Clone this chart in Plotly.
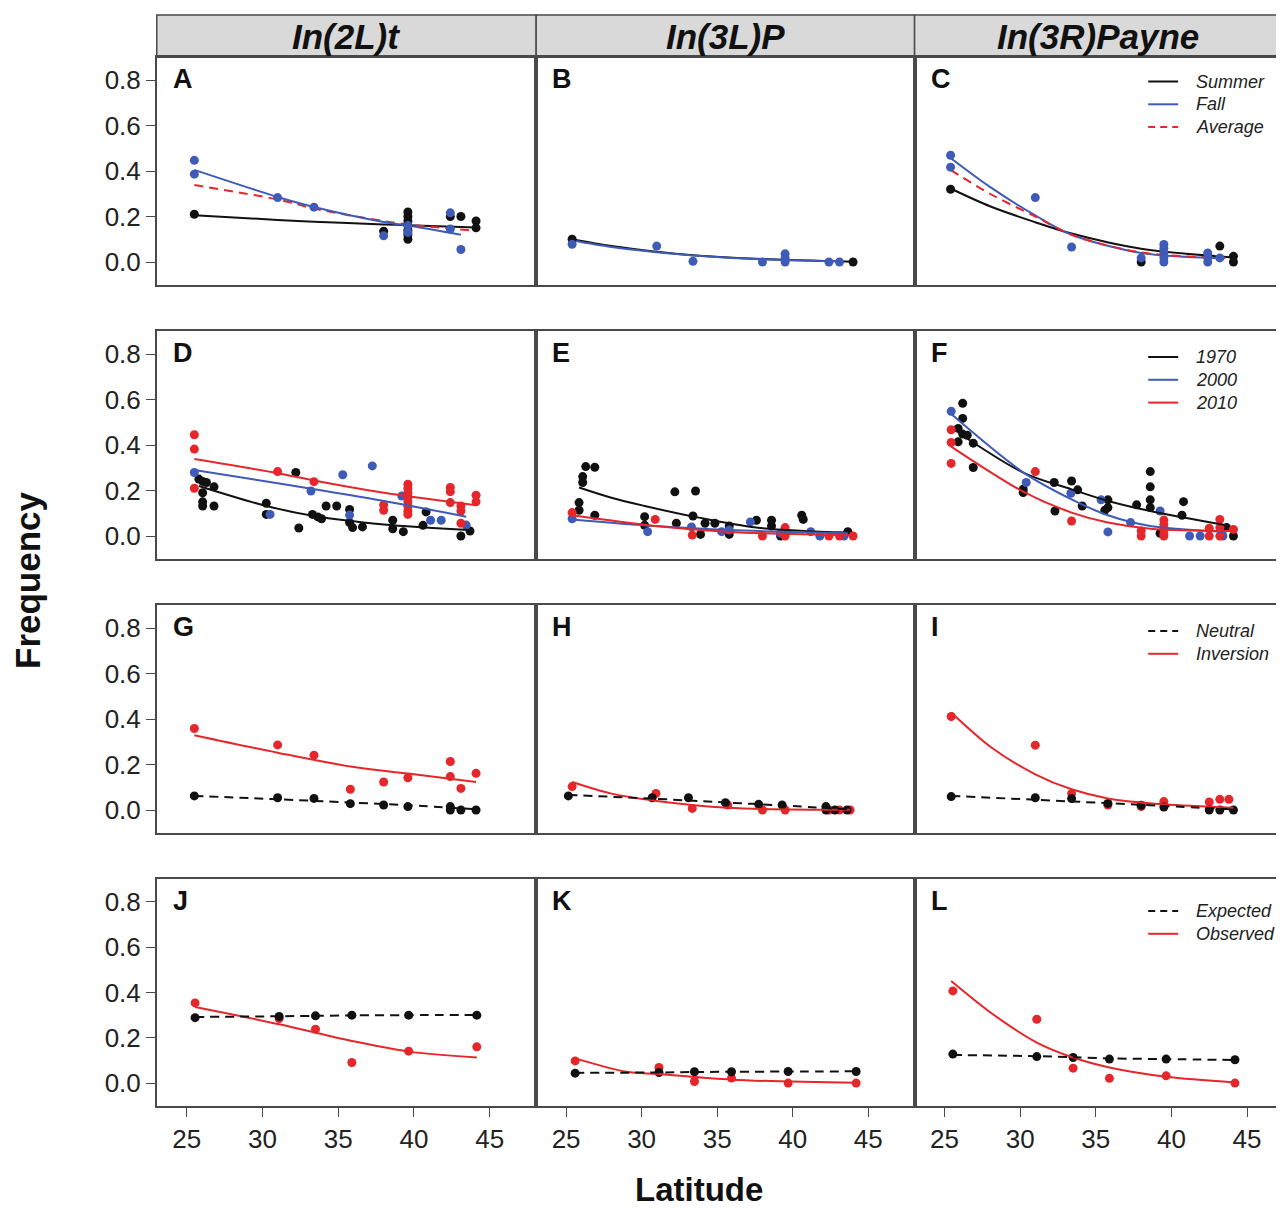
import plotly.graph_objects as go

# page body has an 8px margin: the figure is drawn 8px smaller and shifted
OFF = 8
W, H = 1284 - OFF, 1209 - OFF
BLACK = '#111111'
BLUE = '#3F5BB8'
RED = '#E5262A'
FRAME = '#4a4a4a'
FONT = 'Liberation Sans, Arial, Helvetica, sans-serif'

col_titles = ['In(2L)t', 'In(3L)P', 'In(3R)Payne']
panel_letters = list('ABCDEFGHIJKL')
y_ticks = [0.0, 0.2, 0.4, 0.6, 0.8]
x_ticks = [25, 30, 35, 40, 45]
legend_labels = [['Summer', 'Fall', 'Average'], ['1970', '2000', '2010'],
                 ['Neutral', 'Inversion'], ['Expected', 'Observed']]

# ---------------- Row 1: Summer / Fall ----------------
A_sum_lat = [25.5, 38.0, 39.6, 39.6, 39.6, 39.6, 39.6, 39.6, 39.6, 42.4, 43.1, 44.1, 44.1]
A_sum_val = [0.21, 0.135, 0.22, 0.20, 0.18, 0.16, 0.14, 0.12, 0.10, 0.20, 0.20, 0.18, 0.15]
A_fall_lat = [25.5, 25.5, 31.0, 33.4, 38.0, 39.6, 39.6, 42.4, 42.4, 43.1]
A_fall_val = [0.447, 0.386, 0.283, 0.241, 0.115, 0.16, 0.13, 0.216, 0.145, 0.055]
A_sum_fit_lat = [25.5, 31.0, 33.4, 38.0, 39.6, 44.1]
A_sum_fit = [0.206, 0.185, 0.177, 0.165, 0.162, 0.152]
A_fall_fit_lat = [25.5, 31.0, 33.4, 38.0, 39.6, 43.1]
A_fall_fit = [0.405, 0.286, 0.242, 0.176, 0.160, 0.120]
A_avg_fit_lat = [25.5, 31.0, 33.4, 38.0, 39.6, 44.1]
A_avg_fit = [0.338, 0.275, 0.235, 0.180, 0.165, 0.137]

B_sum_lat = [25.4, 44.0]
B_sum_val = [0.10, 0.0]
B_fall_lat = [25.4, 31.0, 33.4, 38.0, 39.5, 39.5, 39.5, 42.4, 43.1]
B_fall_val = [0.078, 0.07, 0.003, 0.0, 0.036, 0.018, 0.0, 0.0, 0.0]
B_sum_fit_lat = [25.4, 28.0, 31.0, 33.4, 38.0, 44.0]
B_sum_fit = [0.100, 0.070, 0.045, 0.030, 0.013, 0.001]
B_fall_fit_lat = [25.4, 28.0, 31.0, 33.4, 38.0, 43.1]
B_fall_fit = [0.094, 0.066, 0.043, 0.029, 0.012, 0.003]

C_sum_lat = [25.4, 38.0, 43.2, 44.1, 44.1]
C_sum_val = [0.32, 0.0, 0.07, 0.025, 0.0]
C_fall_lat = [25.4, 25.4, 31.0, 33.4, 38.0, 39.5, 39.5, 39.5, 39.5, 39.5, 42.4, 42.4, 42.4, 43.2]
C_fall_val = [0.469, 0.417, 0.283, 0.066, 0.018, 0.077, 0.06, 0.04, 0.02, 0.0, 0.04, 0.02, 0.0, 0.018]
C_sum_fit_lat = [25.4, 28.0, 31.0, 33.4, 38.0, 44.1]
C_sum_fit = [0.323, 0.245, 0.175, 0.125, 0.058, 0.020]
C_fall_fit_lat = [25.4, 28.0, 31.0, 33.4, 38.0, 43.2]
C_fall_fit = [0.457, 0.330, 0.205, 0.120, 0.040, 0.017]
C_avg_fit_lat = [25.4, 28.0, 31.0, 33.4, 38.0, 44.1]
C_avg_fit = [0.405, 0.300, 0.200, 0.120, 0.042, 0.017]

# ---------------- Row 2: 1970 / 2000 / 2010 ----------------
D_70_lat = [25.8, 26.05, 26.3, 26.05, 26.05, 26.05, 26.8, 26.8, 30.25, 30.25, 32.2, 32.4, 33.3, 33.65,
            33.9, 34.2, 34.9, 35.75, 35.75, 35.95, 36.6, 38.6, 38.6, 39.3, 40.8, 40.6, 43.1, 43.7]
D_70_val = [0.25, 0.24, 0.235, 0.19, 0.15, 0.132, 0.216, 0.132, 0.144, 0.095, 0.279, 0.035, 0.095, 0.084,
            0.076, 0.132, 0.132, 0.117, 0.059, 0.037, 0.04, 0.069, 0.032, 0.019, 0.106, 0.047, 0.0, 0.022]
D_00_lat = [25.5, 30.5, 33.2, 35.3, 37.25, 35.75, 39.2, 41.1, 41.8, 43.45]
D_00_val = [0.279, 0.095, 0.198, 0.269, 0.308, 0.092, 0.176, 0.069, 0.069, 0.048]
D_10_lat = [25.5, 25.5, 25.5, 31.0, 33.4, 38.0, 38.0, 39.6, 39.6, 39.6, 39.6, 39.6, 39.6, 39.6, 39.6,
            42.4, 42.4, 42.4, 43.1, 43.1, 43.1, 44.1, 44.1]
D_10_val = [0.445, 0.382, 0.21, 0.283, 0.239, 0.137, 0.113, 0.228, 0.21, 0.19, 0.17, 0.15, 0.13, 0.11, 0.095,
            0.213, 0.195, 0.147, 0.132, 0.11, 0.056, 0.179, 0.15]
D_70_fit_lat = [25.8, 30.25, 33.4, 38.0, 43.7]
D_70_fit = [0.220, 0.132, 0.088, 0.051, 0.026]
D_00_fit_lat = [25.5, 31.0, 33.4, 38.0, 43.45]
D_00_fit = [0.290, 0.232, 0.205, 0.154, 0.085]
D_10_fit_lat = [25.5, 31.0, 33.4, 38.0, 39.6, 44.1]
D_10_fit = [0.338, 0.276, 0.244, 0.190, 0.175, 0.135]

E_70_lat = [26.3, 26.9, 26.1, 26.1, 25.86, 25.86, 26.9, 30.2, 30.2, 32.2, 33.57, 32.3, 33.4, 33.9, 34.2,
            34.85, 35.8, 35.8, 37.6, 38.6, 38.6, 39.2, 40.6, 40.7, 43.65]
E_70_val = [0.305, 0.302, 0.261, 0.235, 0.147, 0.113, 0.091, 0.085, 0.047, 0.194, 0.198, 0.056, 0.088, 0.007,
            0.056, 0.056, 0.044, 0.007, 0.069, 0.069, 0.044, 0.0, 0.091, 0.073, 0.019]
E_00_lat = [25.4, 30.4, 33.3, 35.3, 35.8, 37.2, 39.2, 41.2, 41.8, 43.4]
E_00_val = [0.076, 0.019, 0.04, 0.019, 0.026, 0.062, 0.012, 0.019, 0.0, 0.0]
E_10_lat = [25.4, 30.9, 33.35, 38.0, 39.5, 39.5, 42.4, 43.1, 44.0]
E_10_val = [0.103, 0.073, 0.004, 0.0, 0.037, 0.0, 0.0, 0.0, 0.0]
E_70_fit_lat = [25.86, 28.0, 30.2, 33.6, 37.6, 43.65]
E_70_fit = [0.213, 0.168, 0.132, 0.083, 0.037, 0.015]
E_00_fit_lat = [25.4, 30.9, 35.8, 43.65]
E_00_fit = [0.073, 0.044, 0.026, 0.012]
E_10_fit_lat = [25.4, 30.9, 35.8, 44.0]
E_10_fit = [0.091, 0.044, 0.018, 0.003]

F_70_lat = [26.2, 26.2, 25.9, 25.9, 26.2, 26.5, 26.9, 26.9, 30.2, 30.2, 32.25, 32.3, 33.4, 33.8, 34.1,
            35.8, 35.8, 35.6, 37.7, 38.6, 38.6, 38.6, 38.6, 39.25, 40.8, 40.7, 43.65, 44.1]
F_70_val = [0.583, 0.517, 0.473, 0.414, 0.448, 0.443, 0.408, 0.301, 0.206, 0.191, 0.235, 0.110, 0.242, 0.203,
            0.132, 0.159, 0.125, 0.113, 0.137, 0.283, 0.216, 0.159, 0.125, 0.012, 0.151, 0.091, 0.037, 0.0]
F_00_lat = [25.44, 30.4, 33.35, 35.35, 35.8, 37.3, 39.25, 41.2, 41.9, 43.4]
F_00_val = [0.548, 0.235, 0.188, 0.159, 0.018, 0.059, 0.110, 0.0, 0.0, 0.0]
F_10_lat = [25.44, 25.44, 25.44, 31.0, 33.4, 38.0, 38.0, 39.5, 39.5, 39.5, 39.5, 39.5, 42.5, 42.5,
            43.2, 43.2, 43.2, 44.1]
F_10_val = [0.467, 0.411, 0.319, 0.283, 0.066, 0.022, 0.0, 0.07, 0.05, 0.03, 0.01, 0.0, 0.034, 0.0,
            0.073, 0.037, 0.0, 0.029]
F_70_fit_lat = [25.9, 30.2, 33.4, 35.8, 38.6, 43.65]
F_70_fit = [0.455, 0.279, 0.205, 0.154, 0.110, 0.047]
F_00_fit_lat = [25.44, 30.2, 33.4, 35.8, 38.6, 43.65]
F_00_fit = [0.536, 0.280, 0.161, 0.091, 0.044, 0.018]
F_10_fit_lat = [25.44, 30.2, 33.4, 35.8, 38.6, 44.1]
F_10_fit = [0.393, 0.195, 0.103, 0.059, 0.032, 0.022]

# ---------------- Row 3: Neutral / Inversion ----------------
G_inv_lat = [25.5, 31.0, 33.4, 35.8, 38.0, 39.6, 42.4, 42.4, 43.1, 44.1]
G_inv_val = [0.358, 0.286, 0.241, 0.091, 0.123, 0.142, 0.213, 0.147, 0.095, 0.161]
G_neu_lat = [25.5, 31.0, 33.4, 35.8, 38.0, 39.6, 42.4, 42.4, 43.1, 44.1]
G_neu_val = [0.062, 0.054, 0.051, 0.028, 0.022, 0.015, 0.015, 0.0, 0.0, 0.0]
G_inv_fit_lat = [25.5, 31.0, 35.8, 39.6, 44.1]
G_inv_fit = [0.329, 0.252, 0.191, 0.160, 0.123]
G_neu_fit_lat = [25.5, 31.0, 35.8, 39.6, 44.1]
G_neu_fit = [0.062, 0.047, 0.033, 0.021, 0.003]

H_inv_lat = [25.4, 30.95, 33.35, 35.7, 38.0, 39.5, 42.4, 43.1, 43.8]
H_inv_val = [0.103, 0.073, 0.007, 0.022, 0.0, 0.0, 0.0, 0.0, 0.0]
H_neu_lat = [25.15, 30.7, 33.1, 35.55, 37.75, 39.3, 42.2, 42.2, 42.8, 43.6]
H_neu_val = [0.062, 0.054, 0.054, 0.032, 0.025, 0.022, 0.015, 0.0, 0.0, 0.0]
H_inv_fit_lat = [25.4, 28.0, 31.0, 35.7, 43.8]
H_inv_fit = [0.123, 0.072, 0.040, 0.010, 0.001]
H_neu_fit_lat = [25.15, 30.7, 35.55, 39.3, 43.8]
H_neu_fit = [0.066, 0.050, 0.033, 0.020, 0.002]

I_inv_lat = [25.44, 31.0, 33.4, 35.8, 38.0, 39.5, 42.5, 43.2, 43.8]
I_inv_val = [0.411, 0.285, 0.072, 0.022, 0.015, 0.037, 0.035, 0.047, 0.047]
I_neu_lat = [25.44, 31.0, 33.4, 35.8, 38.0, 39.5, 42.5, 43.2, 44.1]
I_neu_val = [0.059, 0.054, 0.05, 0.029, 0.021, 0.013, 0.0, 0.0, 0.0]
I_inv_fit_lat = [25.44, 28.1, 31.0, 33.4, 35.8, 39.5, 44.1]
I_inv_fit = [0.429, 0.275, 0.157, 0.091, 0.051, 0.025, 0.010]
I_neu_fit_lat = [25.44, 31.0, 35.8, 39.5, 44.1]
I_neu_fit = [0.062, 0.045, 0.030, 0.018, 0.003]

# ---------------- Row 4: Expected / Observed ----------------
J_lat = [25.55, 31.1, 33.5, 35.9, 39.65, 44.15]
J_obs = [0.354, 0.285, 0.238, 0.091, 0.141, 0.160]
J_exp = [0.289, 0.294, 0.297, 0.300, 0.300, 0.300]
J_obs_fit_lat = [25.55, 31.1, 35.9, 39.65, 44.15]
J_obs_fit = [0.336, 0.260, 0.186, 0.139, 0.113]
J_exp_fit = [0.292, 0.295, 0.297, 0.299, 0.300, 0.301]

K_lat = [25.6, 31.15, 33.5, 35.95, 39.7, 44.2]
K_obs = [0.098, 0.069, 0.007, 0.022, 0.0, 0.0]
K_exp = [0.044, 0.047, 0.050, 0.050, 0.051, 0.051]
K_obs_fit_lat = [25.6, 29.0, 31.15, 35.95, 44.2]
K_obs_fit = [0.109, 0.050, 0.040, 0.015, 0.001]
K_exp_fit = [0.045, 0.047, 0.049, 0.050, 0.051, 0.052]

L_lat = [25.55, 31.1, 33.5, 35.9, 39.65, 44.2]
L_obs = [0.407, 0.282, 0.066, 0.021, 0.032, 0.0]
L_exp = [0.128, 0.117, 0.113, 0.106, 0.106, 0.103]
L_obs_fit_lat = [25.44, 28.2, 31.1, 33.5, 35.9, 39.65, 44.2]
L_obs_fit = [0.451, 0.304, 0.179, 0.113, 0.069, 0.028, 0.003]
L_exp_fit = [0.124, 0.119, 0.114, 0.109, 0.106, 0.102]

DASH = '9px,6px'
# (lat, value, colour, kind, dash)
panels = [
    [(A_sum_fit_lat, A_sum_fit, BLACK, 'fit', 'solid'), (A_avg_fit_lat, A_avg_fit, RED, 'fit', DASH),
     (A_fall_fit_lat, A_fall_fit, BLUE, 'fit', 'solid'),
     (A_sum_lat, A_sum_val, BLACK, 'pts', None), (A_fall_lat, A_fall_val, BLUE, 'pts', None)],
    [(B_sum_fit_lat, B_sum_fit, BLACK, 'fit', 'solid'), (B_fall_fit_lat, B_fall_fit, BLUE, 'fit', 'solid'),
     (B_sum_lat, B_sum_val, BLACK, 'pts', None), (B_fall_lat, B_fall_val, BLUE, 'pts', None)],
    [(C_sum_fit_lat, C_sum_fit, BLACK, 'fit', 'solid'), (C_fall_fit_lat, C_fall_fit, BLUE, 'fit', 'solid'),
     (C_avg_fit_lat, C_avg_fit, RED, 'fit', DASH),
     (C_sum_lat, C_sum_val, BLACK, 'pts', None), (C_fall_lat, C_fall_val, BLUE, 'pts', None)],
    [(D_70_lat, D_70_val, BLACK, 'pts', None), (D_00_lat, D_00_val, BLUE, 'pts', None),
     (D_10_lat, D_10_val, RED, 'pts', None),
     (D_70_fit_lat, D_70_fit, BLACK, 'fit', 'solid'), (D_00_fit_lat, D_00_fit, BLUE, 'fit', 'solid'),
     (D_10_fit_lat, D_10_fit, RED, 'fit', 'solid')],
    [(E_70_lat, E_70_val, BLACK, 'pts', None), (E_00_lat, E_00_val, BLUE, 'pts', None),
     (E_10_lat, E_10_val, RED, 'pts', None),
     (E_70_fit_lat, E_70_fit, BLACK, 'fit', 'solid'), (E_00_fit_lat, E_00_fit, BLUE, 'fit', 'solid'),
     (E_10_fit_lat, E_10_fit, RED, 'fit', 'solid')],
    [(F_70_lat, F_70_val, BLACK, 'pts', None), (F_00_lat, F_00_val, BLUE, 'pts', None),
     (F_10_lat, F_10_val, RED, 'pts', None),
     (F_70_fit_lat, F_70_fit, BLACK, 'fit', 'solid'), (F_00_fit_lat, F_00_fit, BLUE, 'fit', 'solid'),
     (F_10_fit_lat, F_10_fit, RED, 'fit', 'solid')],
    [(G_inv_lat, G_inv_val, RED, 'pts', None), (G_neu_lat, G_neu_val, BLACK, 'pts', None),
     (G_inv_fit_lat, G_inv_fit, RED, 'fit', 'solid'), (G_neu_fit_lat, G_neu_fit, BLACK, 'fit', DASH)],
    [(H_inv_lat, H_inv_val, RED, 'pts', None), (H_neu_lat, H_neu_val, BLACK, 'pts', None),
     (H_inv_fit_lat, H_inv_fit, RED, 'fit', 'solid'), (H_neu_fit_lat, H_neu_fit, BLACK, 'fit', DASH)],
    [(I_inv_lat, I_inv_val, RED, 'pts', None), (I_neu_lat, I_neu_val, BLACK, 'pts', None),
     (I_inv_fit_lat, I_inv_fit, RED, 'fit', 'solid'), (I_neu_fit_lat, I_neu_fit, BLACK, 'fit', DASH)],
    [(J_lat, J_obs, RED, 'pts', None), (J_lat, J_exp, BLACK, 'pts', None),
     (J_obs_fit_lat, J_obs_fit, RED, 'fit', 'solid'), (J_lat, J_exp_fit, BLACK, 'fit', DASH)],
    [(K_lat, K_obs, RED, 'pts', None), (K_lat, K_exp, BLACK, 'pts', None),
     (K_obs_fit_lat, K_obs_fit, RED, 'fit', 'solid'), (K_lat, K_exp_fit, BLACK, 'fit', DASH)],
    [(L_lat, L_obs, RED, 'pts', None), (L_lat, L_exp, BLACK, 'pts', None),
     (L_obs_fit_lat, L_obs_fit, RED, 'fit', 'solid'), (L_lat, L_exp_fit, BLACK, 'fit', DASH)],
]

legend_styles = [[(BLACK, 'solid'), (BLUE, 'solid'), (RED, '7px,5px')],
                 [(BLACK, 'solid'), (BLUE, 'solid'), (RED, 'solid')],
                 [(BLACK, '7px,5px'), (RED, 'solid')],
                 [(BLACK, '7px,5px'), (RED, 'solid')]]

# ---------------- layout geometry (page pixels) ----------------
col_px = [(157, 537), (537, 916), (916, 1284)]
row_px = [(57.25, 284.75), (331.25, 558.75), (605.25, 832.75), (879.25, 1105.75)]
x_ranges = [[23.02, 48.07], [23.02, 48.07], [23.02, 47.31]]
y_range = [-0.1, 0.9]
legend_y0 = [81.5, 357, 631, 911]
legend_gap = 22.8


def px(x):
    return (x - OFF) / W


def py(y):
    return 1 - (y - OFF) / H


fig = go.Figure()
layout = dict(width=W, height=H, margin=dict(l=0, r=0, t=0, b=0),
              paper_bgcolor='white', plot_bgcolor='white', showlegend=False,
              font=dict(family=FONT, color='#222222'))
shapes, annotations = [], []

for p, series in enumerate(panels):
    r, c = divmod(p, 3)
    sfx = '' if p == 0 else str(p + 1)
    for lat, val, col, kind, dash in series:
        if kind == 'pts':
            fig.add_trace(go.Scatter(x=lat, y=val, mode='markers', xaxis='x' + sfx, yaxis='y' + sfx,
                                     marker=dict(size=9, color=col, line=dict(width=0)),
                                     hoverinfo='skip'))
        else:
            fig.add_trace(go.Scatter(x=lat, y=val, mode='lines', xaxis='x' + sfx, yaxis='y' + sfx,
                                     line=dict(color=col, width=2, dash=dash, shape='spline',
                                               smoothing=0.9),
                                     hoverinfo='skip'))
    x0, x1 = col_px[c]
    y0, y1 = row_px[r]
    bottom = (r == 3)
    left = (c == 0)
    layout['xaxis' + sfx] = dict(
        domain=[px(x0), min(px(x1), 1.0)], range=x_ranges[c], anchor='y' + sfx,
        showline=True, mirror=True, linecolor=FRAME, linewidth=1.5,
        showgrid=False, zeroline=False,
        tickvals=x_ticks if bottom else [], ticks='outside' if bottom else '',
        ticklen=9, tickwidth=1.3, tickcolor=FRAME, showticklabels=bottom,
        tickfont=dict(size=26, family=FONT, color='#222222'))
    layout['yaxis' + sfx] = dict(
        domain=[py(y1), py(y0)], range=y_range, anchor='x' + sfx,
        showline=True, mirror=True, linecolor=FRAME, linewidth=1.5,
        showgrid=False, zeroline=False,
        tickvals=y_ticks if left else [], ticktext=[f'{v:.1f}' for v in y_ticks] if left else [],
        ticks='outside' if left else '', ticklen=9, tickwidth=1.3, tickcolor=FRAME,
        showticklabels=left, tickfont=dict(size=26, family=FONT, color='#222222'))
    annotations.append(dict(xref='paper', yref='paper', x=px(x0 + 14), y=py(y0 + 22),
                            xanchor='left', yanchor='middle', showarrow=False,
                            text='<b>' + panel_letters[p] + '</b>',
                            font=dict(size=27, family=FONT, color='#111111')))

# header strips
for c, title in enumerate(col_titles):
    x0, x1 = col_px[c]
    shapes.append(dict(type='rect', xref='paper', yref='paper', x0=px(x0), x1=min(px(x1), 1.0),
                       y0=py(57.25), y1=py(15), fillcolor='#d9d9d9',
                       line=dict(color=FRAME, width=1.5), layer='below'))
    annotations.append(dict(xref='paper', yref='paper', x=px((x0 + x1) / 2), y=py(37),
                            xanchor='center', yanchor='middle', showarrow=False,
                            text='<b><i>' + title + '</i></b>',
                            font=dict(size=35, family=FONT, color='#111111')))

# legends in the right column
for r, labels in enumerate(legend_labels):
    for i, lab in enumerate(labels):
        yy = legend_y0[r] + i * legend_gap
        col, dash = legend_styles[r][i]
        shapes.append(dict(type='line', xref='paper', yref='paper', x0=px(1150), x1=px(1180),
                           y0=py(yy), y1=py(yy), line=dict(color=col, width=2, dash=dash)))
        annotations.append(dict(xref='paper', yref='paper', x=px(1196), y=py(yy),
                                xanchor='left', yanchor='middle', showarrow=False,
                                text='<i>' + lab + '</i>',
                                font=dict(size=18, family=FONT, color='#222222')))

annotations.append(dict(xref='paper', yref='paper', x=px(27), y=py(580), textangle=-90,
                        xanchor='center', yanchor='middle', showarrow=False,
                        text='<b>Frequency</b>', font=dict(size=35, family=FONT, color='#111111')))
annotations.append(dict(xref='paper', yref='paper', x=px(700), y=py(1189),
                        xanchor='center', yanchor='middle', showarrow=False,
                        text='<b>Latitude</b>', font=dict(size=33, family=FONT, color='#111111')))

layout['shapes'] = shapes
layout['annotations'] = annotations
fig.update_layout(**layout)
fig.write_html('out.html')
